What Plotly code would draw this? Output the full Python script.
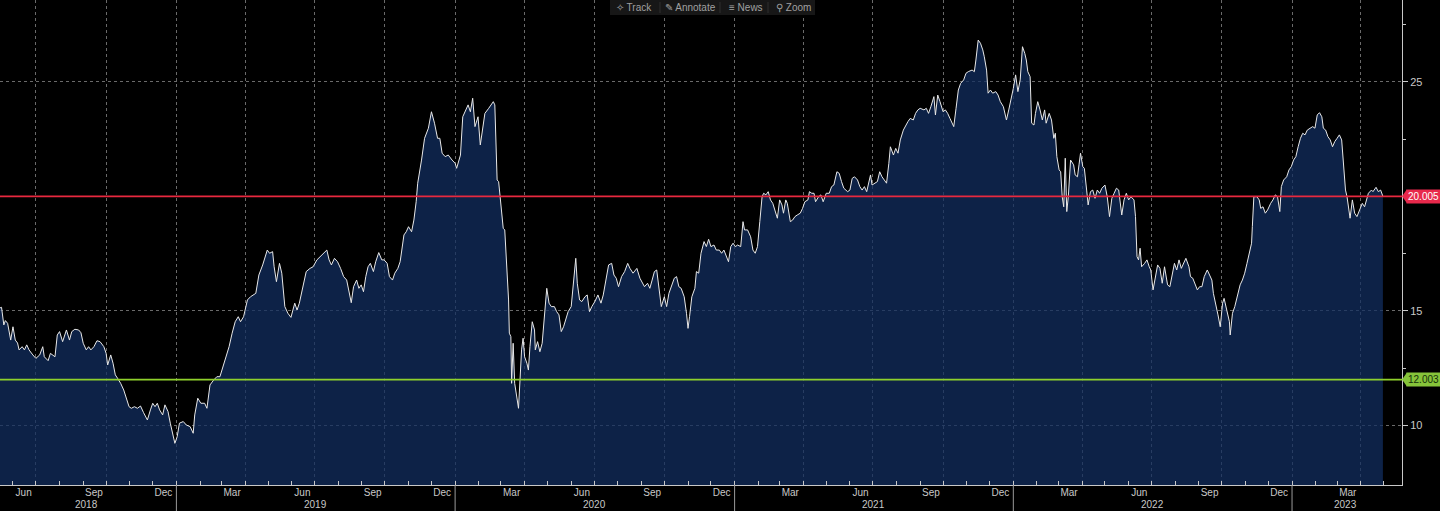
import plotly.graph_objects as go

# ---------------- data ----------------
DATES = [
    "2018-05-14", "2018-05-17", "2018-05-20", "2018-05-22", "2018-05-25", "2018-05-27", "2018-05-29",
    "2018-06-01", "2018-06-04", "2018-06-07", "2018-06-09", "2018-06-13", "2018-06-16", "2018-06-19",
    "2018-06-22", "2018-06-27", "2018-07-01", "2018-07-06", "2018-07-10", "2018-07-12", "2018-07-17",
    "2018-07-20", "2018-07-23", "2018-07-26", "2018-07-29", "2018-08-01", "2018-08-05", "2018-08-08",
    "2018-08-10", "2018-08-14", "2018-08-17", "2018-08-21", "2018-08-26", "2018-08-29", "2018-09-01",
    "2018-09-05", "2018-09-08", "2018-09-11", "2018-09-15", "2018-09-19", "2018-09-23", "2018-09-28",
    "2018-10-01", "2018-10-03", "2018-10-07", "2018-10-10", "2018-10-13", "2018-10-16", "2018-10-20",
    "2018-10-24", "2018-10-28", "2018-10-31", "2018-11-03", "2018-11-07", "2018-11-11", "2018-11-15",
    "2018-11-19", "2018-11-24", "2018-11-28", "2018-12-01", "2018-12-04", "2018-12-07", "2018-12-10",
    "2018-12-14", "2018-12-17", "2018-12-21", "2018-12-24", "2018-12-28", "2018-12-30",
    "2019-01-02", "2019-01-05", "2019-01-10", "2019-01-14", "2019-01-19", "2019-01-23", "2019-01-25",
    "2019-01-29", "2019-02-02", "2019-02-07", "2019-02-10", "2019-02-14", "2019-02-19", "2019-02-23",
    "2019-02-27", "2019-03-03", "2019-03-07", "2019-03-11", "2019-03-15", "2019-03-19", "2019-03-23",
    "2019-03-26", "2019-03-30", "2019-04-04", "2019-04-08", "2019-04-15", "2019-04-19", "2019-04-24",
    "2019-04-30", "2019-05-03", "2019-05-07", "2019-05-09", "2019-05-12", "2019-05-16", "2019-05-19",
    "2019-05-23", "2019-05-27", "2019-05-31", "2019-06-05", "2019-06-08", "2019-06-11", "2019-06-16",
    "2019-06-20", "2019-06-25", "2019-06-29", "2019-07-04", "2019-07-08", "2019-07-12", "2019-07-17",
    "2019-07-20", "2019-07-23", "2019-07-27", "2019-07-31", "2019-08-04", "2019-08-08", "2019-08-12",
    "2019-08-16", "2019-08-18", "2019-08-21", "2019-08-25", "2019-08-28", "2019-08-31", "2019-09-03",
    "2019-09-06", "2019-09-09", "2019-09-12", "2019-09-16", "2019-09-19", "2019-09-23", "2019-09-27",
    "2019-09-30", "2019-10-04", "2019-10-07", "2019-10-11", "2019-10-14", "2019-10-18", "2019-10-21",
    "2019-10-26", "2019-10-29", "2019-11-01", "2019-11-05", "2019-11-08", "2019-11-11", "2019-11-13",
    "2019-11-18", "2019-11-22", "2019-11-27", "2019-12-01", "2019-12-05", "2019-12-09", "2019-12-12",
    "2019-12-15", "2019-12-19", "2019-12-23", "2019-12-28",
    "2020-01-01", "2020-01-03", "2020-01-08", "2020-01-11", "2020-01-14", "2020-01-18", "2020-01-21",
    "2020-01-24", "2020-01-27", "2020-01-31", "2020-02-03", "2020-02-06", "2020-02-09", "2020-02-14",
    "2020-02-20", "2020-02-22", "2020-02-25", "2020-02-27", "2020-03-02", "2020-03-04", "2020-03-06",
    "2020-03-09", "2020-03-11", "2020-03-12", "2020-03-14", "2020-03-15", "2020-03-17", "2020-03-19",
    "2020-03-22", "2020-03-24", "2020-03-26", "2020-03-28", "2020-03-30", "2020-04-01", "2020-04-04",
    "2020-04-06", "2020-04-08", "2020-04-11", "2020-04-14", "2020-04-15", "2020-04-18", "2020-04-21",
    "2020-04-24", "2020-04-28", "2020-04-30", "2020-05-03", "2020-05-06", "2020-05-10", "2020-05-13",
    "2020-05-16", "2020-05-19", "2020-05-22", "2020-05-25", "2020-05-28", "2020-06-01", "2020-06-04",
    "2020-06-07", "2020-06-09", "2020-06-12", "2020-06-15", "2020-06-19", "2020-06-22", "2020-06-25",
    "2020-06-28", "2020-07-02", "2020-07-06", "2020-07-10", "2020-07-13", "2020-07-17", "2020-07-20",
    "2020-07-24", "2020-07-27", "2020-07-30", "2020-08-02", "2020-08-06", "2020-08-10", "2020-08-14",
    "2020-08-17", "2020-08-21", "2020-08-26", "2020-08-30", "2020-09-02", "2020-09-05", "2020-09-09",
    "2020-09-12", "2020-09-15", "2020-09-18", "2020-09-21", "2020-09-24", "2020-09-27", "2020-10-01",
    "2020-10-04", "2020-10-07", "2020-10-10", "2020-10-14", "2020-10-17", "2020-10-20", "2020-10-23",
    "2020-10-27", "2020-10-30", "2020-11-01", "2020-11-03", "2020-11-06", "2020-11-10", "2020-11-12",
    "2020-11-15", "2020-11-18", "2020-11-22", "2020-11-25", "2020-11-28", "2020-12-01", "2020-12-05",
    "2020-12-08", "2020-12-12", "2020-12-15", "2020-12-18", "2020-12-21", "2020-12-24", "2020-12-27",
    "2020-12-30",
    "2021-01-02", "2021-01-05", "2021-01-09", "2021-01-11", "2021-01-12", "2021-01-14", "2021-01-18",
    "2021-01-22", "2021-01-25", "2021-01-28", "2021-01-31", "2021-02-03", "2021-02-06", "2021-02-08",
    "2021-02-11", "2021-02-14", "2021-02-17", "2021-02-20", "2021-02-23", "2021-02-26", "2021-03-01",
    "2021-03-04", "2021-03-06", "2021-03-09", "2021-03-11", "2021-03-15", "2021-03-18", "2021-03-21",
    "2021-03-24", "2021-03-28", "2021-03-31", "2021-04-03", "2021-04-07", "2021-04-09", "2021-04-12",
    "2021-04-15", "2021-04-17", "2021-04-21", "2021-04-24", "2021-04-27", "2021-05-01", "2021-05-05",
    "2021-05-08", "2021-05-11", "2021-05-15", "2021-05-18", "2021-05-21", "2021-05-24", "2021-05-29",
    "2021-06-01", "2021-06-04", "2021-06-07", "2021-06-11", "2021-06-14", "2021-06-17", "2021-06-20",
    "2021-06-23", "2021-06-26", "2021-06-28", "2021-06-30", "2021-07-03", "2021-07-07", "2021-07-10",
    "2021-07-13", "2021-07-16", "2021-07-19", "2021-07-22", "2021-07-24", "2021-07-28", "2021-07-31",
    "2021-08-03", "2021-08-06", "2021-08-10", "2021-08-13", "2021-08-16", "2021-08-19", "2021-08-23",
    "2021-08-26", "2021-08-29", "2021-09-01", "2021-09-06", "2021-09-09", "2021-09-12", "2021-09-15",
    "2021-09-19", "2021-09-21", "2021-09-24", "2021-09-27", "2021-10-01", "2021-10-04", "2021-10-07",
    "2021-10-10", "2021-10-15", "2021-10-18", "2021-10-21", "2021-10-24", "2021-10-28", "2021-10-31",
    "2021-11-03", "2021-11-08", "2021-11-11", "2021-11-13", "2021-11-16", "2021-11-19", "2021-11-22",
    "2021-11-24", "2021-11-27", "2021-11-29", "2021-12-02", "2021-12-05", "2021-12-09", "2021-12-12",
    "2021-12-15", "2021-12-19", "2021-12-23", "2021-12-26", "2021-12-29",
    "2022-01-01", "2022-01-04", "2022-01-07", "2022-01-10", "2022-01-13", "2022-01-16", "2022-01-18",
    "2022-01-20", "2022-01-23", "2022-01-25", "2022-01-28", "2022-01-30", "2022-02-02", "2022-02-05",
    "2022-02-08", "2022-02-11", "2022-02-13", "2022-02-17", "2022-02-20", "2022-02-23", "2022-02-25",
    "2022-02-27", "2022-03-02", "2022-03-04", "2022-03-06", "2022-03-08", "2022-03-09", "2022-03-10",
    "2022-03-12", "2022-03-14", "2022-03-17", "2022-03-21", "2022-03-23", "2022-03-26", "2022-03-28",
    "2022-03-30", "2022-04-02", "2022-04-04", "2022-04-07", "2022-04-09", "2022-04-12", "2022-04-15",
    "2022-04-18", "2022-04-21", "2022-04-24", "2022-04-27", "2022-05-01", "2022-05-04", "2022-05-07",
    "2022-05-10", "2022-05-13", "2022-05-16", "2022-05-19", "2022-05-23", "2022-05-26", "2022-05-29",
    "2022-06-01", "2022-06-04", "2022-06-08", "2022-06-10", "2022-06-12", "2022-06-14", "2022-06-16",
    "2022-06-18", "2022-06-22", "2022-06-25", "2022-06-28", "2022-06-30", "2022-07-03", "2022-07-06",
    "2022-07-09", "2022-07-12", "2022-07-15", "2022-07-18", "2022-07-22", "2022-07-25", "2022-07-28",
    "2022-07-31", "2022-08-03", "2022-08-06", "2022-08-09", "2022-08-13", "2022-08-15", "2022-08-19",
    "2022-08-21", "2022-08-24", "2022-08-27", "2022-08-30", "2022-09-02", "2022-09-05", "2022-09-08",
    "2022-09-12", "2022-09-15", "2022-09-18", "2022-09-20", "2022-09-23", "2022-09-26", "2022-09-29",
    "2022-10-02", "2022-10-04", "2022-10-08", "2022-10-11", "2022-10-12", "2022-10-15", "2022-10-18",
    "2022-10-22", "2022-10-25", "2022-10-28", "2022-10-31", "2022-11-03", "2022-11-06", "2022-11-09",
    "2022-11-10", "2022-11-12", "2022-11-16", "2022-11-19", "2022-11-21", "2022-11-24", "2022-11-27",
    "2022-11-30", "2022-12-04", "2022-12-07", "2022-12-10", "2022-12-13", "2022-12-16", "2022-12-18",
    "2022-12-21", "2022-12-25", "2022-12-28", "2022-12-31",
    "2023-01-03", "2023-01-06", "2023-01-09", "2023-01-12", "2023-01-15", "2023-01-18", "2023-01-21",
    "2023-01-24", "2023-01-28", "2023-01-31", "2023-02-03", "2023-02-06", "2023-02-09", "2023-02-11",
    "2023-02-14", "2023-02-17", "2023-02-20", "2023-02-23", "2023-02-26", "2023-03-01", "2023-03-04",
    "2023-03-07", "2023-03-09", "2023-03-12", "2023-03-14", "2023-03-16", "2023-03-18", "2023-03-21",
    "2023-03-24", "2023-03-27", "2023-03-30", "2023-04-03", "2023-04-06", "2023-04-09", "2023-04-11",
    "2023-04-15", "2023-04-17", "2023-04-21", "2023-04-24", "2023-04-27", "2023-04-30",
]

VALUES = [
    15.12, 15.16, 14.39, 14.58, 14.46, 14.03, 13.73,
    14.31, 13.73, 13.60, 13.30, 13.44, 13.30, 13.52,
    13.30, 13.08, 12.93, 13.08, 13.44, 13.00, 12.83,
    13.15, 13.08, 13.00, 13.95, 14.10, 13.66, 14.03,
    14.17, 13.73, 14.10, 14.20, 14.17, 14.05, 13.59,
    13.30, 13.44, 13.30, 13.44, 13.70, 13.66, 13.44,
    13.15, 12.64, 13.08, 12.72, 12.21, 12.06, 11.84,
    11.55, 11.11, 10.82, 10.75, 10.82, 10.75, 10.85,
    10.56, 10.24, 10.68, 10.97, 10.82, 10.97, 10.68,
    10.46, 10.90, 10.61, 10.10, 9.44, 9.22,
    9.51, 10.10, 10.17, 10.02, 9.95, 9.66, 10.46,
    11.19, 10.97, 10.97, 10.75, 11.77, 11.99, 12.13,
    12.13, 12.57, 13.00, 13.44, 14.03, 14.53, 14.75,
    14.53, 14.75, 15.48, 15.62, 15.77, 16.57, 17.01,
    17.66, 17.52, 17.59, 16.93, 16.28, 17.08, 16.65,
    15.19, 14.90, 14.72, 15.34, 15.04, 15.34, 16.06,
    16.72, 16.86, 16.93, 17.23, 17.37, 17.52, 17.66,
    17.23, 17.01, 17.30, 17.15, 16.86, 16.50, 16.35,
    15.77, 15.36, 16.06, 16.35, 15.99, 16.14, 15.84,
    16.50, 16.93, 17.08, 16.72, 17.15, 17.55, 17.23,
    17.23, 17.08, 16.50, 16.35, 16.65, 16.86, 17.15,
    18.32, 18.46, 18.68, 18.46, 18.97, 19.77, 20.58,
    21.59, 22.54, 22.98, 23.70, 23.20, 22.54, 22.54,
    21.89, 21.74, 21.81, 21.59,
    21.45, 21.23, 21.81, 23.48, 23.70, 24.00, 23.70,
    24.29, 23.05, 23.48, 22.25, 22.90, 23.63, 23.85,
    24.14, 24.00, 20.72, 20.65, 19.12, 18.61, 18.54,
    16.93, 15.48, 14.03, 13.88, 11.84, 13.59, 11.84,
    11.26, 10.75, 11.99, 13.30, 13.81, 13.00, 12.72,
    12.42, 13.44, 14.53, 14.17, 13.30, 13.66, 13.22,
    13.59, 15.48, 15.99, 15.34, 15.19, 15.19, 14.97,
    14.83, 14.10, 14.31, 14.61, 14.97, 15.19, 16.21,
    17.30, 16.21, 15.48, 15.41, 15.62, 15.70, 14.97,
    15.19, 15.41, 15.70, 15.34, 15.70, 16.50, 17.01,
    17.08, 16.57, 16.43, 16.06, 16.50, 16.72, 17.08,
    16.86, 16.65, 16.86, 16.43, 16.21, 16.06, 16.21,
    15.99, 16.35, 16.72, 16.79, 15.92, 15.19, 15.62,
    15.19, 15.77, 16.06, 16.43, 16.50, 16.06, 15.99,
    15.62, 14.90, 14.24, 14.75, 15.62, 15.99, 16.72,
    16.65, 17.52, 18.03, 17.81, 18.13, 17.81, 17.88,
    17.66, 17.66, 17.52, 17.66, 17.37, 17.15, 17.81,
    17.96,
    17.81, 17.88, 17.81, 18.39, 18.90, 18.54, 18.54,
    18.24, 17.66, 17.52, 17.81, 18.90, 19.99, 20.14,
    20.07, 20.21, 19.85, 19.70, 19.41, 19.05, 19.85,
    19.63, 19.27, 19.85, 19.70, 18.90, 18.97, 19.12,
    19.19, 19.27, 19.48, 19.77, 19.85, 20.21, 20.14,
    20.14, 19.77, 19.99, 20.07, 19.77, 20.14, 20.14,
    20.43, 20.50, 21.08, 21.01, 20.65, 20.36, 20.21,
    20.28, 20.79, 20.86, 20.72, 20.43, 20.28, 20.43,
    20.21, 20.58, 20.94, 20.50, 20.58, 20.65, 21.08,
    20.86, 20.72, 20.58, 21.45, 22.17, 21.81, 22.10,
    21.89, 22.47, 22.90, 23.12, 23.27, 23.41, 23.34,
    23.63, 23.78, 23.85, 23.78, 23.85, 23.63, 23.92,
    24.36, 23.56, 24.43, 24.14, 23.70, 23.78, 23.63,
    23.41, 23.05, 23.85, 24.65, 24.94, 25.09, 25.38,
    25.45, 25.52, 25.45, 25.96, 26.83, 26.69, 26.40,
    26.10, 25.52, 24.51, 24.65, 24.51, 24.58, 24.43,
    24.14, 23.92, 23.34, 23.78, 24.21,
    24.72, 25.31, 24.58, 25.09, 26.54, 26.25, 25.96,
    25.45, 25.23, 23.20, 23.12, 23.63, 24.14, 23.78,
    23.34, 23.78, 23.20, 23.63, 23.34, 22.54, 22.76,
    21.74, 21.16, 21.08, 19.99, 19.55, 20.72, 21.67,
    19.34, 19.99, 21.59, 21.38, 20.94, 20.86, 21.38,
    21.89, 21.30, 21.23, 20.28, 19.63, 20.21, 20.28,
    19.92, 20.28, 20.14, 20.36, 20.50, 19.99, 19.12,
    19.92, 20.14, 20.36, 20.28, 19.19, 19.85, 20.14,
    19.85, 19.99, 19.85, 19.12, 17.37, 17.23, 17.74,
    16.93, 17.08, 17.23, 16.93, 16.79, 15.92, 16.50,
    17.01, 16.86, 16.21, 16.93, 16.14, 16.06, 16.50,
    17.08, 16.79, 17.23, 16.86, 17.15, 17.30, 16.93,
    16.50, 16.43, 16.14, 15.92, 16.06, 16.06, 16.50,
    16.79, 16.57, 16.35, 15.77, 15.34, 14.83, 14.31,
    15.34, 15.55, 14.97, 14.53, 13.95, 14.90, 15.19,
    15.77, 16.14, 16.35, 16.65, 17.08, 17.52, 17.96,
    18.68, 19.99, 19.99, 19.85, 19.48, 19.55, 19.27,
    19.41, 19.70, 19.85, 20.07, 19.99, 19.34, 20.43,
    20.72, 20.86, 21.16, 21.30,
    21.59, 21.74, 22.17, 22.54, 22.76, 22.69, 22.90,
    22.98, 23.05, 22.98, 23.56, 23.66, 23.48, 22.98,
    22.90, 22.61, 22.47, 22.17, 22.40, 22.54, 22.69,
    22.47, 21.59, 20.28, 19.99, 19.41, 19.05, 19.85,
    19.27, 19.12, 19.41, 19.70, 19.55, 19.85, 20.14,
    20.28, 20.21, 20.40, 20.21, 20.28, 20.005,
]

LEVEL_HIGH = 20.005
LEVEL_LOW = 12.003

MONTH_TICKS = [
    "2018-06-15", "2018-09-15", "2018-12-15",
    "2019-03-15", "2019-06-15", "2019-09-15", "2019-12-15",
    "2020-03-15", "2020-06-15", "2020-09-15", "2020-12-15",
    "2021-03-15", "2021-06-15", "2021-09-15", "2021-12-15",
    "2022-03-15", "2022-06-15", "2022-09-15", "2022-12-15",
    "2023-03-15",
]
MONTH_LABELS = ["Jun", "Sep", "Dec"] + ["Mar", "Jun", "Sep", "Dec"] * 4 + ["Mar"]

YEAR_LABELS = ["2018", "2019", "2020", "2021", "2022", "2023"]
YEAR_LABEL_POS = ["2018-09-05", "2019-07-02", "2020-07-02", "2021-07-02", "2022-07-02", "2023-03-12"]
YEAR_STARTS = ["2019-01-01", "2020-01-01", "2021-01-01", "2022-01-01", "2023-01-01"]

Y_TICKS = [10, 15, 25]           # 20 is covered by the 20.005 tag
Y_MINOR = [12.5, 17.5, 22.5, 27.5]

X_RANGE = ["2018-05-15", "2023-05-25"]
Y_RANGE = [7.40, 28.58]

TOOLBAR = ["\u2727 Track", "\u270e Annotate", "\u2261 News", "\u26b2 Zoom"]

# ---------------- figure ----------------
W, H = 1440, 511
ML, MR, MT, MB = 0, 38, 0, 26
PW, PH = W - ML - MR, H - MT - MB

AXIS_COL = "#c8c8c8"
GRID_COL = "#6a6a6a"
FONT = "Arial, Liberation Sans, sans-serif"

fig = go.Figure()

fig.add_trace(go.Scatter(
    x=DATES, y=VALUES, mode="lines",
    line=dict(color="#e8e8e8", width=1),
    fill="tozeroy", fillcolor="rgba(18,46,96,0.74)",
    hoverinfo="skip", showlegend=False,
))
# invisible trace so the month-label axis gets drawn
fig.add_trace(go.Scatter(
    x=[DATES[0]], y=[None], xaxis="x2", mode="lines",
    hoverinfo="skip", showlegend=False,
))

fig.update_layout(
    width=W, height=H, autosize=False,
    margin=dict(l=ML, r=MR, t=MT, b=MB, pad=0),
    paper_bgcolor="black", plot_bgcolor="black",
    font=dict(family=FONT, size=10, color=AXIS_COL),
    hovermode=False, showlegend=False,
    xaxis=dict(
        type="date", range=X_RANGE, fixedrange=True,
        dtick="M3", tick0="2018-01-01",
        showgrid=True, gridcolor=GRID_COL, griddash="dot", gridwidth=1,
        ticks="inside", ticklen=4, tickcolor=AXIS_COL, tickwidth=1,
        showticklabels=False, zeroline=False,
        showline=True, linecolor=AXIS_COL, linewidth=1,
        minor=dict(dtick="M1", tick0="2018-01-01", ticks="inside", ticklen=4,
                   tickcolor=AXIS_COL, showgrid=False),
    ),
    xaxis2=dict(
        type="date", range=X_RANGE, fixedrange=True,
        overlaying="x", side="bottom", anchor="y",
        tickmode="array", tickvals=MONTH_TICKS, ticktext=MONTH_LABELS,
        ticks="", showgrid=False, showline=False, zeroline=False,
        tickfont=dict(size=10, color=AXIS_COL, family=FONT),
    ),
    yaxis=dict(
        range=Y_RANGE, side="right", fixedrange=True,
        tickmode="array", tickvals=Y_TICKS,
        showgrid=True, gridcolor=GRID_COL, griddash="dot", gridwidth=1,
        ticks="outside", ticklen=5, tickcolor=AXIS_COL,
        showline=True, linecolor=AXIS_COL, linewidth=1, zeroline=False,
        tickfont=dict(size=11, color=AXIS_COL, family=FONT),
        minor=dict(tickmode="array", tickvals=Y_MINOR, ticks="outside", ticklen=3,
                   tickcolor=AXIS_COL, showgrid=False),
    ),
)

# horizontal reference levels
for level, col in [(LEVEL_HIGH, "#e8283f"), (LEVEL_LOW, "#8fd12c")]:
    fig.add_shape(type="line", xref="paper", yref="y", x0=0, x1=1, y0=level, y1=level,
                  line=dict(color=col, width=1.6), layer="above")

# value tags on the right axis
for level, bg, fg in [(LEVEL_HIGH, "#e8294c", "#ffffff"), (LEVEL_LOW, "#86c43a", "#14300a")]:
    fig.add_shape(type="path", xref="paper", yref="y", xsizemode="pixel", ysizemode="pixel",
                  xanchor=1, yanchor=level, path="M 0 0 L 5 7 L 5 -7 Z",
                  fillcolor=bg, line=dict(width=0), layer="above")
    fig.add_annotation(x=1, xref="paper", y=level, yref="y", xanchor="left", yanchor="middle",
                       xshift=4, text=f"{level:.3f}", showarrow=False,
                       bgcolor=bg, borderpad=1, font=dict(size=10, color=fg, family=FONT))

# year separators under the axis
for d in YEAR_STARTS:
    fig.add_shape(type="line", xref="x", yref="paper", x0=d, x1=d, y0=0, y1=-MB / PH,
                  line=dict(color="#9a9a9a", width=1), layer="above")

# year labels
for d, lab in zip(YEAR_LABEL_POS, YEAR_LABELS):
    fig.add_annotation(x=d, xref="x", y=0, yref="paper", yanchor="middle", yshift=-19,
                       text=lab, showarrow=False, font=dict(size=10, color=AXIS_COL, family=FONT))

# toolbar at the top
fig.add_shape(type="rect", xref="paper", yref="paper",
              x0=610 / PW, x1=815 / PW, y0=1 - 15 / PH, y1=1,
              fillcolor="#171717", line=dict(width=0), layer="above")
tb_centers = [634, 690, 746, 794]
for cx, lab in zip(tb_centers, TOOLBAR):
    fig.add_annotation(x=cx / PW, xref="paper", y=1 - 7.5 / PH, yref="paper",
                       xanchor="center", yanchor="middle", text=lab, showarrow=False,
                       font=dict(size=10, color="#a0a0a0", family=FONT))
for sx in [660, 720, 768]:
    fig.add_shape(type="line", xref="paper", yref="paper", x0=sx / PW, x1=sx / PW,
                  y0=1 - 13 / PH, y1=1 - 2 / PH, line=dict(color="#2e2e2e", width=1), layer="above")

fig.write_html("out.html", config={"displayModeBar": False, "staticPlot": True})
